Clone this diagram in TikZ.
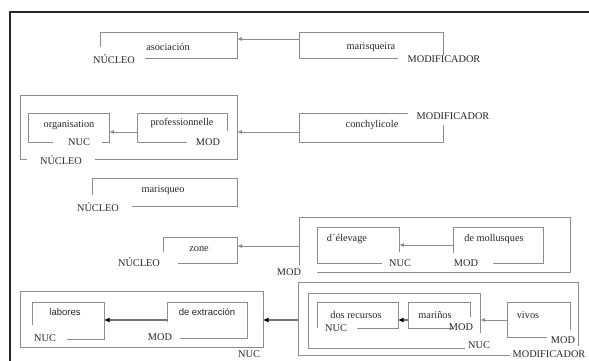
\documentclass[tikz,border=0pt]{standalone}
\usepackage{fontspec}
\setmainfont{Liberation Serif}
\newfontfamily\arialfont{Liberation Sans}
\usetikzlibrary{arrows.meta}
\definecolor{edge}{HTML}{8C8C8C}
\tikzset{
  frame/.style={draw=black!85, line width=1.1pt},
  bx/.style={draw=edge, line width=0.9pt},
  lbl/.style={font=\fontsize{10.3}{12}\selectfont, inner sep=0pt, text=black!85},
  slbl/.style={lbl, font=\arialfont\fontsize{9.5}{12}\selectfont},
  arr/.style={draw=edge, line width=0.9pt, -{Latex[length=5pt,width=4pt]}},
  darr/.style={draw=black!55, line width=1.1pt, -{Latex[length=5.5pt,width=5pt,color=black]}},
}
\begin{document}
\begin{tikzpicture}[x=1pt,y=-1pt]
\useasboundingbox (0,0) rectangle (589,361);
% page frame: top and left rules
\draw[frame] (10,361) -- (10,12) -- (589,12);

% --- asociación marisqueira ---
\draw[bx] (100,47) -- (100,32) -- (237,32) -- (237,58) -- (145,58);
\node[lbl] (asoc) at (168,47) {asociación};
\node[lbl] (asocN) at (114,59) {NÚCLEO};
\coordinate (asocR) at (237,39);
\draw[bx] (398,58) -- (299,58) -- (299,32) -- (443,32) -- (443,55);
\node[lbl] (maris) at (371,47) {marisqueira};
\node[lbl] (marisM) at (444,59) {MODIFICADOR};
\coordinate (marisL) at (299,39);
\draw[arr] (marisL) -- (asocR);

% --- organisation professionnelle conchylicole ---
\draw[bx] (27,159) -- (20,159) -- (20,95) -- (237,95) -- (237,159) -- (95,159);
\node[lbl] (orgN) at (61,160) {NÚCLEO};
\coordinate (orgR) at (237,132);
\draw[bx] (53,142) -- (28,142) -- (28,113) -- (109,113) -- (109,142) -- (102,142);
\node[lbl] (organ) at (69,125) {organisation};
\node[lbl] (organN) at (79,142) {NUC};
\coordinate (organR) at (109,132);
\draw[bx] (227,131) -- (227,113) -- (137,113) -- (137,142) -- (187,142);
\node[lbl] (prof) at (182,123) {professionnelle};
\node[lbl] (profM) at (208,142) {MOD};
\coordinate (profL) at (137,132);
\draw[arr] (profL) -- (organR);
\draw[bx] (408,113) -- (299,113) -- (299,142) -- (443,142) -- (443,125);
\node[lbl] (conch) at (372,125) {conchylicole};
\node[lbl] (conchM) at (453,116) {MODIFICADOR};
\coordinate (conchL) at (299,132);
\draw[arr] (conchL) -- (orgR);

% --- marisqueo ---
\draw[bx] (92,195) -- (92,178) -- (237,178) -- (237,206) -- (132,206);
\node[lbl] (marq) at (163,190) {marisqueo};
\node[lbl] (marqN) at (98,207) {NÚCLEO};

% --- zone d'élevage de mollusques ---
\draw[bx] (163,252) -- (163,237) -- (237,237) -- (237,263) -- (178,263);
\node[lbl] (zone) at (199,249) {zone};
\node[lbl] (zoneN) at (139,262) {NÚCLEO};
\coordinate (zoneR) at (237,246);
\draw[bx] (299,265) -- (299,217) -- (570,217) -- (570,272) -- (317,272);
\node[lbl] (elevM) at (289,272) {MOD};
\coordinate (elevL) at (299,246);
\draw[arr] (elevL) -- (zoneR);
\draw[bx] (382,263) -- (317,263) -- (317,227) -- (399,227) -- (399,252);
\node[lbl] (elev) at (347,239) {d´élevage};
\node[lbl] (elevN) at (400,263) {NUC};
\coordinate (elevR) at (399,245);
\draw[bx] (453,253) -- (453,227) -- (543,227) -- (543,263) -- (493,263);
\node[lbl] (moll) at (494,239) {de mollusques};
\node[lbl] (mollM) at (466,263) {MOD};
\coordinate (mollL) at (453,245);
\draw[arr] (mollL) -- (elevR);

% --- labores de extracción dos recursos mariños vivos ---
\draw[bx] (20,291) rectangle (263,347);
\node[lbl] (labN) at (249,354) {NUC};
\coordinate (labR) at (263,320);
\draw[bx] (32,325) -- (32,302) -- (104,302) -- (104,339) -- (67,339);
\node[slbl] (lab) at (65,312) {labores};
\node[lbl] (labsN) at (45,338) {NUC};
\coordinate (labsR) at (104,320);
\draw[bx] (167,322) -- (167,302) -- (247,302) -- (247,338) -- (180,338);
\node[slbl] (extr) at (207,312) {de extracción};
\node[lbl] (extrM) at (160,337) {MOD};
\coordinate (extrL) at (167,320);
\draw[darr] (extrL) -- (labsR);

\draw[bx] (510,355) -- (298,355) -- (298,282) -- (578,282) -- (578,346);
\node[lbl] (recM) at (549,354.5) {MODIFICADOR};
\coordinate (recL) at (298,320);
\draw[darr] (recL) -- (labR);
\draw[bx] (465,348) -- (308,348) -- (308,293) -- (480,293) -- (480,333);
\node[lbl] (recN) at (479,345) {NUC};
\coordinate (recR) at (480,320);
\draw[bx] (317,328) -- (317,302) -- (398,302) -- (398,328) -- (357,328);
\node[lbl] (dos) at (356,315) {dos recursos};
\node[lbl] (dosN) at (336,328) {NUC};
\coordinate (dosR) at (398,320);
\draw[bx] (452,328) -- (408,328) -- (408,302) -- (470,302) -- (470,317);
\node[lbl] (mar) at (435,315) {mariños};
\node[lbl] (marM) at (461,327) {MOD};
\coordinate (marL) at (408,320);
\draw[darr] (marL) -- (dosR);
\draw[bx] (547,337) -- (507,337) -- (507,302) -- (570,302) -- (570,330);
\node[lbl] (viv) at (528,315) {vivos};
\node[lbl] (vivM) at (563,340) {MOD};
\coordinate (vivL) at (507,320);
\draw[arr] (vivL) -- (recR);
\end{tikzpicture}
\end{document}
